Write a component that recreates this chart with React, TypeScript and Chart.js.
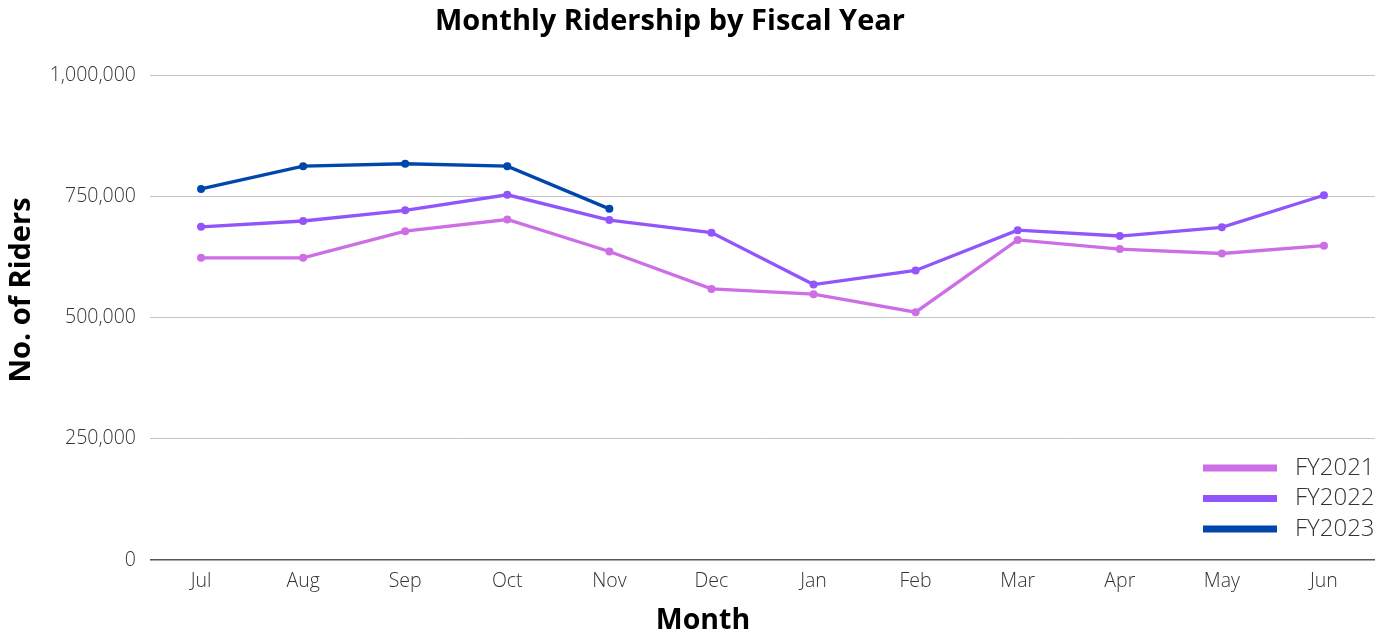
import React, { useEffect, useRef } from "react";
import { Chart, registerables } from "chart.js";

Chart.register(...registerables);

const months = ["Jul", "Aug", "Sep", "Oct", "Nov", "Dec", "Jan", "Feb", "Mar", "Apr", "May", "Jun"];
const fy2021 = [623000, 623000, 678000, 702000, 636000, 559000, 548000, 511000, 660000, 641000, 632000, 648000];
const fy2022 = [687000, 699000, 721000, 753000, 701000, 675000, 568000, 597000, 680000, 668000, 686000, 752000];
const fy2023 = [765000, 812000, 817000, 812000, 724000, null, null, null, null, null, null, null];
const seriesNames = ["FY2021", "FY2022", "FY2023"];
const seriesColors = ["#cd6ee6", "#9155fb", "#0047ab"];
const yTicks = [0, 250000, 500000, 750000, 1000000];

const overlayPlugin = {
  id: "overlay",
  afterDraw(chart: any) {
    const ctx = chart.ctx;
    ctx.save();
    ctx.fillStyle = "#000";
    ctx.textAlign = "center";
    ctx.textBaseline = "middle";
    ctx.font = "bold 29px 'Open Sans'";
    ctx.fillText("Monthly Ridership by Fiscal Year", 662, 14);
    ctx.font = "bold 28.5px 'Open Sans'";
    ctx.fillText("Month", 695, 613);
    ctx.save();
    ctx.translate(14, 282);
    ctx.rotate(-Math.PI / 2);
    ctx.font = "bold 29px 'Open Sans'";
    ctx.fillText("No. of Riders", 0, 0);
    ctx.restore();
    // legend
    const ds = chart.data.datasets;
    ds.forEach((d: any, i: number) => {
      const y = 460 + i * 30.5;
      ctx.fillStyle = d.borderColor;
      ctx.fillRect(1195, y - 3.5, 74, 7);
      ctx.fillStyle = "#333";
      ctx.textAlign = "left";
      ctx.font = "300 24px 'Open Sans'";
      ctx.fillText(d.label, 1287, y);
    });
    ctx.restore();
  },
};

export default function App() {
  const ref = useRef<HTMLCanvasElement>(null);
  useEffect(() => {
    if (!ref.current) return;
    const data = [fy2021, fy2022, fy2023];
    const chart = new Chart(ref.current, {
      type: "line",
      data: {
        labels: months,
        datasets: seriesNames.map((n, i) => ({
          label: n,
          data: data[i],
          borderColor: seriesColors[i],
          backgroundColor: seriesColors[i],
          borderWidth: 3.3,
          pointRadius: 4,
          pointBorderWidth: 0,
          tension: 0,
          spanGaps: false,
        })),
      },
      options: {
        responsive: true,
        maintainAspectRatio: false,
        animation: false,
        layout: { padding: { top: 67, right: 5, left: 0, bottom: 0 } },
        plugins: {
          legend: { display: false },
          title: { display: false },
          tooltip: { enabled: false },
        },
        scales: {
          x: {
            offset: true,
            grid: { display: false, drawTicks: false },
            border: { display: false },
            ticks: {
              padding: 10,
              color: "#333",
              font: { family: "'Open Sans'", size: 19.5, weight: "300" as any },
            },
            afterFit: (s: any) => {
              s.height = 76;
            },
          },
          y: {
            min: 0,
            max: 1000000,
            afterBuildTicks: (s: any) => {
              s.ticks = yTicks.map((v) => ({ value: v }));
            },
            grid: {
              drawTicks: false,
              color: (c: any) => (c.tick && c.tick.value === 0 ? "#555" : "#c4c4c4"),
              lineWidth: (c: any) => (c.tick && c.tick.value === 0 ? 1.5 : 1),
            },
            border: { display: false },
            ticks: {
              padding: 14,
              color: "#333",
              font: { family: "'Open Sans'", size: 19.5, weight: "300" as any },
              callback: (v: any) => Number(v).toLocaleString("en-US"),
            },
            afterFit: (s: any) => {
              s.width = 142;
            },
          },
        },
      },
      plugins: [overlayPlugin],
    });
    return () => chart.destroy();
  }, []);
  return (
    <div style={{ position: "relative", width: 1372, height: 628 }}>
      <canvas ref={ref} />
    </div>
  );
}
